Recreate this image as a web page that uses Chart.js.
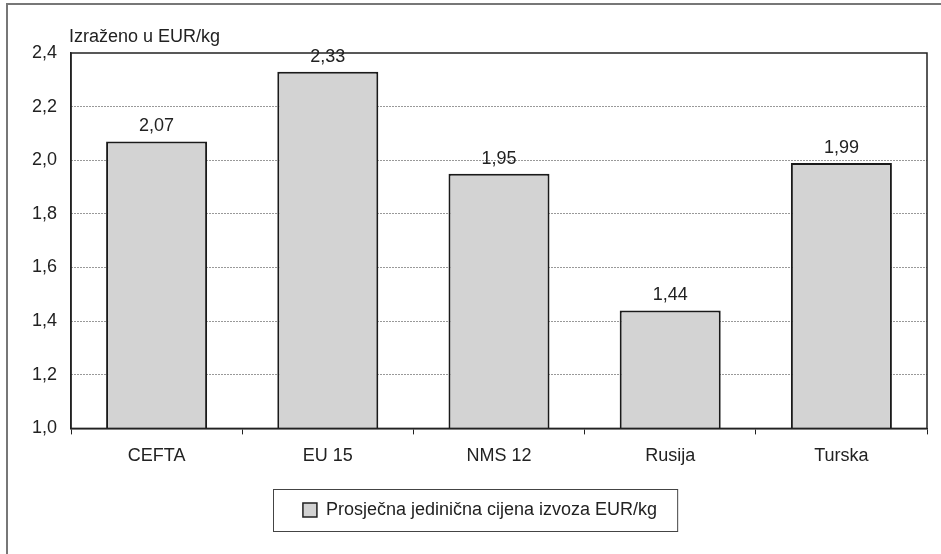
<!DOCTYPE html>
<html>
<head>
<meta charset="utf-8">
<script src="https://cdn.jsdelivr.net/npm/chart.js@4/dist/chart.umd.min.js"></script>
<style>
  html, body { margin: 0; padding: 0; background: #fff; }
  #wrap { position: relative; width: 941px; height: 554px; overflow: hidden; }
  #frame { position: absolute; left: 6px; top: 3px; width: 960px; height: 600px; border: 2px solid #777; box-sizing: border-box; }
  canvas { position: absolute; left: 0; top: 0; }
</style>
</head>
<body>
<div id="wrap">
  <div id="frame"></div>
  <canvas id="chart" width="941" height="554"></canvas>
</div>
<script>
'use strict';

// categories and values
const categories = ['CEFTA', 'EU 15', 'NMS 12', 'Rusija', 'Turska'];
const prices = [2.07, 2.33, 1.95, 1.44, 1.99];
const seriesName = 'Prosječna jedinična cijena izvoza EUR/kg';
const unitLabel = 'Izraženo u EUR/kg';

const FONT = 'Arial, "Liberation Sans", sans-serif';
const TEXT = '#222';
const SIZE = 18;
const LEGEND_SHIFT = 9;

function comma(v, digits){
  return v.toFixed(digits).replace('.', ',');
}

// value above each bar, unit text above the plot, box round plot and legend
const extras = {
  id: 'extras',
  afterLayout(chart){
    //legend sits a little right of centre in the original
    let lg = chart.legend;
    lg.left += LEGEND_SHIFT;
    lg.right += LEGEND_SHIFT;
    for (let hb of lg.legendHitBoxes){
      hb.left += LEGEND_SHIFT;
    }
  },
  afterDraw(chart){
    let ctx = chart.ctx;
    let area = chart.chartArea;
    ctx.save();

    ctx.strokeStyle = '#222';
    ctx.lineWidth = 1.5;
    ctx.strokeRect(area.left, area.top, area.right - area.left, area.bottom - area.top);

    ctx.fillStyle = TEXT;
    ctx.font = SIZE + 'px ' + FONT;
    ctx.textAlign = 'center';
    ctx.textBaseline = 'alphabetic';
    let meta = chart.getDatasetMeta(0);
    meta.data.forEach(function(bar, i){
      ctx.fillText(comma(prices[i], 2), bar.x, bar.y - 10);
    });

    ctx.textAlign = 'left';
    ctx.fillText(unitLabel, area.left - 2, 42);

    let hit = chart.legend.legendHitBoxes[0];
    if (hit){
      ctx.strokeStyle = '#444';
      ctx.lineWidth = 1;
      let top = Math.round(hit.top + hit.height / 2 - 21) + 0.5;
      ctx.strokeRect(Math.round(hit.left) - 29.5, top, hit.width + 50, 42);
    }
    ctx.restore();
  }
};

new Chart(document.getElementById('chart'), {
  type: 'bar',
  data: {
    labels: categories,
    datasets: [{
      label: seriesName,
      data: prices,
      backgroundColor: '#d3d3d3',
      borderColor: '#1a1a1a',
      borderWidth: 2,
      borderSkipped: false,
      barPercentage: 0.59,
      categoryPercentage: 1
    }]
  },
  options: {
    responsive: false,
    animation: false,
    layout: { padding: { left: 15, right: 14, top: 53, bottom: 25 } },
    plugins: {
      title: { display: false },
      tooltip: { enabled: false },
      legend: {
        position: 'bottom',
        labels: {
          color: TEXT,
          font: { family: FONT, size: SIZE },
          boxWidth: 14,
          boxHeight: 14,
          padding: 23,
          generateLabels(chart){
            return [{
              text: seriesName,
              fillStyle: '#d3d3d3',
              strokeStyle: '#222',
              lineWidth: 1.5,
              fontColor: TEXT,
              datasetIndex: 0
            }];
          }
        }
      }
    },
    scales: {
      x: {
        offset: true,
        grid: { display: true, drawOnChartArea: false, drawTicks: true, tickLength: 6, color: '#222', offset: true },
        border: { display: true, color: '#222', width: 1.5 },
        ticks: { color: TEXT, font: { family: FONT, size: SIZE }, padding: 11 }
      },
      y: {
        min: 1,
        max: 2.4,
        afterFit(scale){ scale.width = 56; },
        grid: {
          drawTicks: false,
          color: function(c){
            let v = c.tick && c.tick.value;
            if (v === undefined || v <= 1.001 || v >= 2.399) return 'rgba(0,0,0,0)';
            return '#333';
          },
          lineWidth: 1
        },
        border: { display: true, color: '#222', width: 1.5, dash: [1, 2] },
        ticks: {
          stepSize: 0.2,
          color: TEXT,
          font: { family: FONT, size: SIZE },
          padding: 14,
          callback: function(v){ return comma(v, 1); }
        }
      }
    }
  },
  plugins: [extras]
});
</script>
</body>
</html>
